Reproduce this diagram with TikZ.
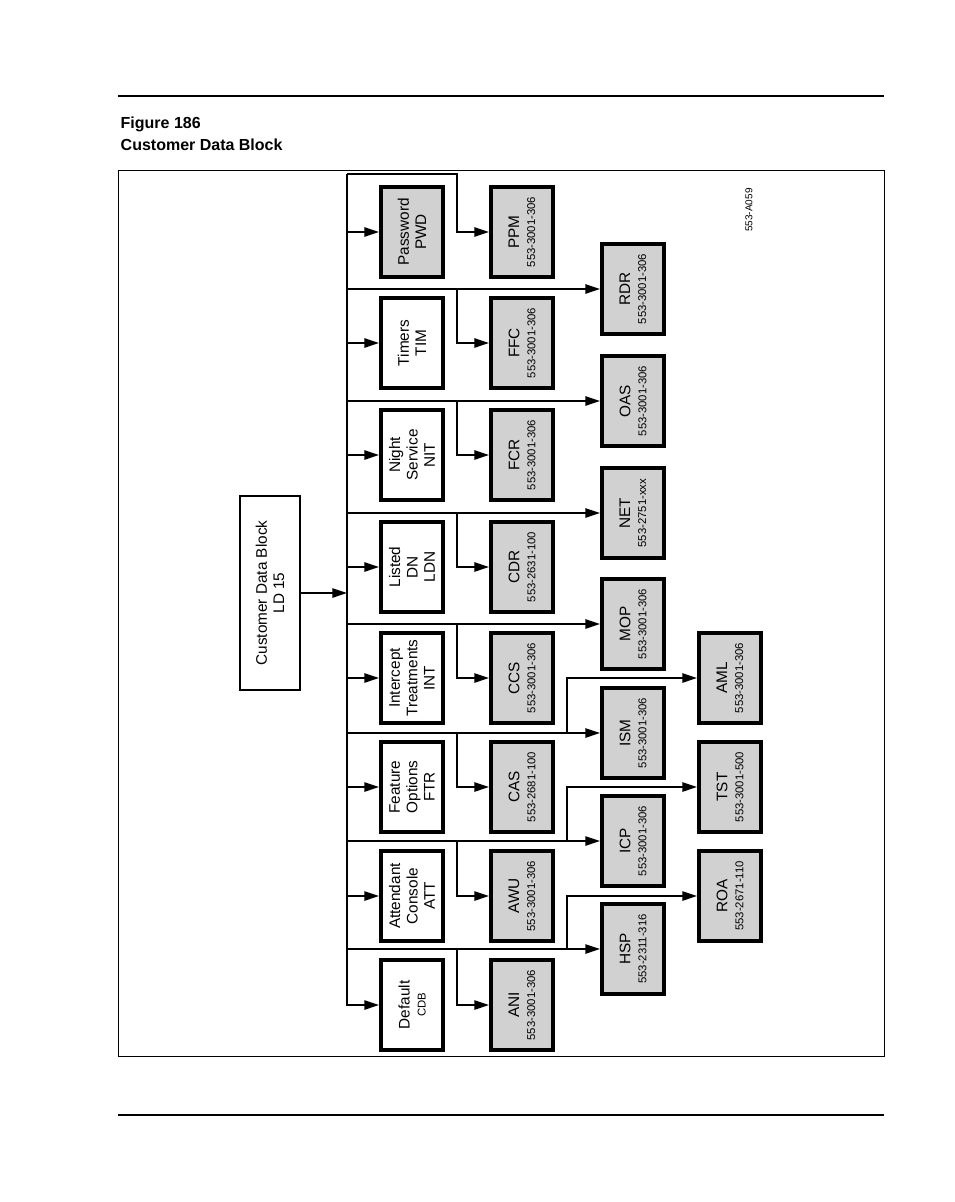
\documentclass[tikz,border=0pt]{standalone}
\usepackage{fontspec}
\setmainfont{Liberation Sans}
\usetikzlibrary{arrows.meta}
\tikzset{
  table/.style={draw=black,line width=3pt,rotate=90,align=center,inner sep=0pt,
    minimum width=67.5pt,minimum height=46.5pt,font=\fontsize{11.5}{13}\selectfont},
  white table/.style={table,fill=white},
  gray table/.style={table,fill=black!18},
  link/.style={line width=1.2pt,-{Triangle[length=11pt,width=7pt]}},
  bus/.style={line width=1.2pt}
}
\newcommand{\pubno}[1]{\\[-1pt]{\fontsize{8.5}{10}\selectfont #1}}
\begin{document}
\begin{tikzpicture}[x=0.75pt,y=-0.75pt]
    \useasboundingbox (0,0) rectangle (954,1202);
    \draw[line width=1.2pt] (118,96) -- (884,96);
    \draw[line width=1.2pt] (118,1115) -- (884,1115);
    \node[anchor=west,align=left,font=\bfseries\fontsize{12}{16.5}\selectfont] (title) at (116,134) {Figure 186\\Customer Data Block};
    \draw[line width=0.6pt] (118,170) rectangle (884,1056);
    \node[rotate=90,font=\fontsize{7.5}{9}\selectfont] (code) at (749,210) {553-A059};

    % main block
    \node[draw,line width=1.6pt,rotate=90,align=center,minimum width=145pt,minimum height=45pt,
      font=\fontsize{11.5}{13}\selectfont] (cdb) at (270,593) {Customer Data Block\\LD 15};

    % first column: prompts of LD 15
    \node[gray table]  (pwd) at (412,232) {Password\\PWD};
    \node[white table] (tim) at (412,343) {Timers\\TIM};
    \node[white table] (nit) at (412,455) {Night\\Service\\NIT};
    \node[white table] (ldn) at (412,567) {Listed\\DN\\LDN};
    \node[white table] (int) at (412,678) {Intercept\\Treatments\\INT};
    \node[white table] (ftr) at (412,787) {Feature\\Options\\FTR};
    \node[white table] (att) at (412,896) {Attendant\\Console\\ATT};
    \node[white table] (def) at (412,1005) {Default\\[-1pt]{\fontsize{8.5}{10}\selectfont CDB}};

    % second column
    \node[gray table] (ppm) at (522,232)  {PPM\pubno{553-3001-306}};
    \node[gray table] (ffc) at (522,343)  {FFC\pubno{553-3001-306}};
    \node[gray table] (fcr) at (522,455)  {FCR\pubno{553-3001-306}};
    \node[gray table] (cdr) at (522,567)  {CDR\pubno{553-2631-100}};
    \node[gray table] (ccs) at (522,678)  {CCS\pubno{553-3001-306}};
    \node[gray table] (cas) at (522,787)  {CAS\pubno{553-2681-100}};
    \node[gray table] (awu) at (522,896)  {AWU\pubno{553-3001-306}};
    \node[gray table] (ani) at (522,1005) {ANI\pubno{553-3001-306}};

    % third column
    \node[gray table] (rdr) at (633,289) {RDR\pubno{553-3001-306}};
    \node[gray table] (oas) at (633,401) {OAS\pubno{553-3001-306}};
    \node[gray table] (net) at (633,513) {NET\pubno{553-2751-xxx}};
    \node[gray table] (mop) at (633,624) {MOP\pubno{553-3001-306}};
    \node[gray table] (ism) at (633,733) {ISM\pubno{553-3001-306}};
    \node[gray table] (icp) at (633,841) {ICP\pubno{553-3001-306}};
    \node[gray table] (hsp) at (633,949) {HSP\pubno{553-2311-316}};

    % fourth column
    \node[gray table] (aml) at (730,678) {AML\pubno{553-3001-306}};
    \node[gray table] (tst) at (730,787) {TST\pubno{553-3001-500}};
    \node[gray table] (roa) at (730,896) {ROA\pubno{553-2671-110}};

    % connectors
    \coordinate (bustop) at (347,174);
    \draw[link] (cdb) -- (347,593);
    \draw[link] (bustop) |- (def);
    \draw[link] (bustop) -- (457,174) |- (ppm);
    \foreach \first in {pwd,tim,nit,ldn,int,ftr,att}
      \draw[link] (bustop |- \first) -- (\first);
    \foreach \row/\second/\third in {tim/ffc/rdr,nit/fcr/oas,ldn/cdr/net,int/ccs/mop,
        ftr/cas/ism,att/awu/icp,def/ani/hsp}
      \draw[link] (bustop |- \third) -- (\third);
    \foreach \second/\third in {ffc/rdr,fcr/oas,cdr/net,ccs/mop,cas/ism,awu/icp,ani/hsp}
      \draw[link] (457,0 |- \third) |- (\second);
    \foreach \third/\fourth in {ism/aml,icp/tst,hsp/roa}
      \draw[link] (567,0 |- \third) |- (\fourth);
\end{tikzpicture}
\end{document}
